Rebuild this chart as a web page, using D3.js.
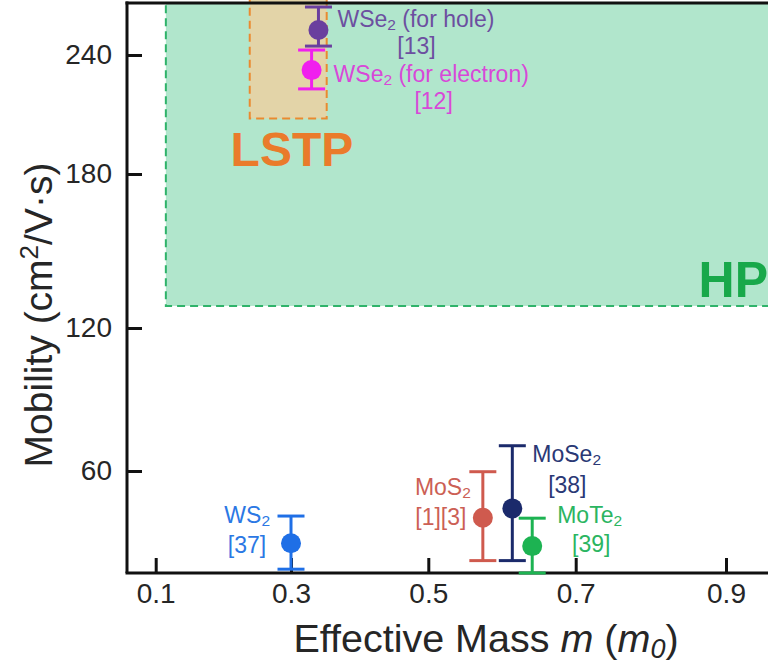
<!DOCTYPE html>
<html>
<head>
<meta charset="utf-8">
<script src="https://cdn.jsdelivr.net/npm/d3@7"></script>
<style>
  html, body { margin: 0; padding: 0; background: #fff; }
  svg { display: block; font-family: "Liberation Sans", Arial, Helvetica, sans-serif; }
</style>
</head>
<body>
<svg id="chart" width="768" height="666"></svg>
<script>
// ---- data -------------------------------------------------------------
const xTicks = [0.1, 0.3, 0.5, 0.7, 0.9];
const yTicks = [60, 120, 180, 240];

const materials = ["WSe2h", "WSe2e", "WS2", "MoS2", "MoSe2", "MoTe2"];
const names     = [["WSe", "2", " (for hole)"], ["WSe", "2", " (for electron)"], ["WS", "2", ""],
                   ["MoS", "2", ""], ["MoSe", "2", ""], ["MoTe", "2", ""]];
const refs      = ["[13]", "[12]", "[37]", "[1][3]", "[38]", "[39]"];
const mass      = [0.34, 0.33, 0.30, 0.574, 0.614, 0.641];
const mobility  = [252.6, 232.4, 29.7, 40.4, 44.3, 28.5];
const mobHigh   = [264.2, 242.5, 41.1, 59.7, 70.6, 40.2];
const mobLow    = [244.5, 222.9, 18.8, 22.4, 22.4, 17.2];

// target regions: high performance (HP) and low standby power (LSTP)
const hpMassMin = 0.115, hpMobMin = 128.6;
const lstpMassMin = 0.239, lstpMassMax = 0.352, lstpMobMin = 208;

// ---- styling / layout ---------------------------------------------------
const colors = ["#6a3f9e", "#f020ee", "#1f6fe6", "#cf5a4e", "#1b2a6b", "#1db352"];
const textColors = ["#6c4fa0", "#d848d8", "#2b78e4", "#cc5f55", "#2a3875", "#2bb561"];
// label offsets from each marker: [name dx, dy, anchor, ref dx, dy]
const labelLayout = [
  [19, -3, "start", 98, 24],
  [22, 12, "start", 122, 39],
  [-21, -20, "end", -44, 10],
  [-12, -23, "end", -42, 7],
  [20, -46, "start", 55, -15],
  [25, -23, "start", 59, 6]
];

const svg = d3.select("#chart");

// the axes of the source figure are not evenly spaced, so both scales are polylinear
const x = d3.scaleLinear().domain(xTicks).range([155.7, 291, 428.3, 575.7, 726]);
const y = d3.scaleLinear().domain(yTicks).range([471, 328, 174, 55]);

const plotL = 127, plotR = 768, plotT = 3, plotB = 573;
const xMax = x.invert(plotR);
const yMax = y.invert(plotT);

// ---- regions ----------------------------------------------------------
svg.append("rect")
  .attr("x", x(hpMassMin)).attr("y", y(yMax))
  .attr("width", x(xMax) - x(hpMassMin) + 10)
  .attr("height", y(hpMobMin) - y(yMax))
  .attr("fill", "#b1e6cc")
  .attr("stroke", "#2fb36a").attr("stroke-width", 2)
  .attr("stroke-dasharray", "8,5");

svg.append("rect")
  .attr("x", x(lstpMassMin)).attr("y", y(yMax) - 5)
  .attr("width", x(lstpMassMax) - x(lstpMassMin))
  .attr("height", y(lstpMobMin) - y(yMax) + 5)
  .attr("fill", "#e3d4a8")
  .attr("stroke", "#ea8a30").attr("stroke-width", 2)
  .attr("stroke-dasharray", "8,5");

svg.append("text")
  .attr("x", x((lstpMassMin + lstpMassMax) / 2) + 4).attr("y", 166)
  .attr("text-anchor", "middle")
  .attr("font-size", 48).attr("font-weight", "bold")
  .attr("fill", "#ea7b2b")
  .text("LSTP");

svg.append("text")
  .attr("x", 768).attr("y", 297)
  .attr("text-anchor", "end")
  .attr("font-size", 50).attr("font-weight", "bold")
  .attr("fill", "#18a84a")
  .text("HP");

// ---- axes -------------------------------------------------------------
const xAxis = d3.axisBottom(x).tickValues(xTicks).tickFormat(d3.format(".1f"))
  .tickSizeInner(-15).tickSizeOuter(0).tickPadding(10);
const yAxis = d3.axisLeft(y).tickValues(yTicks).tickFormat(d3.format("d"))
  .tickSizeInner(-15).tickSizeOuter(0).tickPadding(15);

const gx = svg.append("g").attr("transform", `translate(0,${plotB})`).call(xAxis);
const gy = svg.append("g").attr("transform", `translate(${plotL},0)`).call(yAxis);
gx.select(".domain").attr("d", `M${plotL - 1.5},0H${plotR}`);
gy.select(".domain").attr("d", `M0,${plotT - 1.5}V${plotB}`);
[gx, gy].forEach(g => {
  g.selectAll(".domain").attr("stroke", "#111").attr("stroke-width", 3);
  g.selectAll(".tick line").attr("stroke", "#111").attr("stroke-width", 3);
  g.selectAll(".tick text").attr("font-size", 28).attr("fill", "#262626")
    .attr("font-family", "'Liberation Sans', Arial, sans-serif");
});

// top frame line
svg.append("line")
  .attr("x1", plotL - 1.5).attr("x2", plotR).attr("y1", plotT).attr("y2", plotT)
  .attr("stroke", "#111").attr("stroke-width", 3);

// axis titles
const xt = svg.append("text")
  .attr("x", 486).attr("y", 652).attr("text-anchor", "middle")
  .attr("font-size", 39.5).attr("fill", "#262626");
xt.append("tspan").text("Effective Mass ");
xt.append("tspan").attr("font-style", "italic").text("m");
xt.append("tspan").text(" (");
xt.append("tspan").attr("font-style", "italic").text("m");
xt.append("tspan").attr("font-style", "italic").attr("font-size", 27).attr("dy", 6).text("0");
xt.append("tspan").attr("dy", -6).text(")");

const yt = svg.append("text")
  .attr("transform", "translate(52,315) rotate(-90)")
  .attr("text-anchor", "middle")
  .attr("font-size", 39).attr("fill", "#262626");
yt.append("tspan").text("Mobility (cm");
yt.append("tspan").attr("font-size", 26).attr("dy", -14).text("2");
yt.append("tspan").attr("dy", 14).text("/V·s)");

// ---- error bars and markers -------------------------------------------
const capHalf = 13.5;
const pts = svg.append("g").selectAll("g").data(materials).join("g");

pts.append("line")
  .attr("x1", (d, i) => x(mass[i])).attr("x2", (d, i) => x(mass[i]))
  .attr("y1", (d, i) => y(mobHigh[i])).attr("y2", (d, i) => y(mobLow[i]))
  .attr("stroke", (d, i) => colors[i]).attr("stroke-width", 3);
pts.append("line")
  .attr("x1", (d, i) => x(mass[i]) - capHalf).attr("x2", (d, i) => x(mass[i]) + capHalf)
  .attr("y1", (d, i) => y(mobHigh[i])).attr("y2", (d, i) => y(mobHigh[i]))
  .attr("stroke", (d, i) => colors[i]).attr("stroke-width", 3);
pts.append("line")
  .attr("x1", (d, i) => x(mass[i]) - capHalf).attr("x2", (d, i) => x(mass[i]) + capHalf)
  .attr("y1", (d, i) => y(mobLow[i])).attr("y2", (d, i) => y(mobLow[i]))
  .attr("stroke", (d, i) => colors[i]).attr("stroke-width", 3);
pts.append("circle")
  .attr("cx", (d, i) => x(mass[i])).attr("cy", (d, i) => y(mobility[i]))
  .attr("r", 10)
  .attr("fill", (d, i) => colors[i]);

// ---- labels -----------------------------------------------------------
pts.each(function (d, i) {
  const g = d3.select(this);
  const px = x(mass[i]), py = y(mobility[i]);
  const L = labelLayout[i];
  const t = g.append("text")
    .attr("x", px + L[0]).attr("y", py + L[1])
    .attr("text-anchor", L[2])
    .attr("font-size", 23).attr("fill", textColors[i]);
  t.append("tspan").text(names[i][0]);
  t.append("tspan").attr("font-size", 15.5).attr("dy", 3).text(names[i][1]);
  if (names[i][2]) t.append("tspan").attr("dy", -3).text(names[i][2]);
  g.append("text")
    .attr("x", px + L[3]).attr("y", py + L[4])
    .attr("text-anchor", "middle")
    .attr("font-size", 23).attr("fill", textColors[i])
    .text(refs[i]);
});
</script>
</body>
</html>
